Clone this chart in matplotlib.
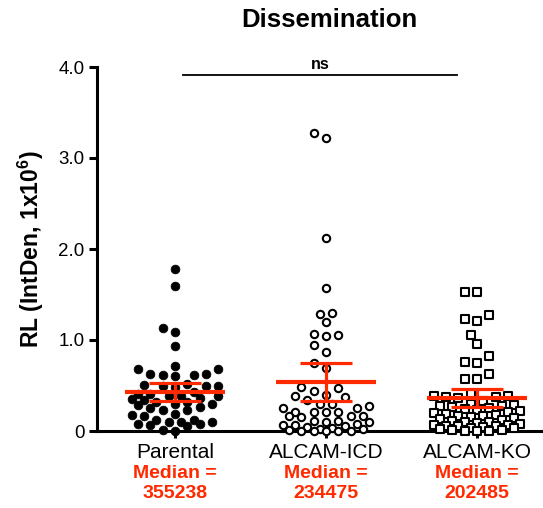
import numpy as np
import matplotlib
matplotlib.use("Agg")
import matplotlib.pyplot as plt
import matplotlib.transforms as mtransforms

plt.rcParams['font.family'] = ['Liberation Sans', 'DejaVu Sans']
plt.rcParams['mathtext.fontset'] = 'custom'
plt.rcParams['mathtext.rm'] = 'Liberation Sans'
plt.rcParams['mathtext.bf'] = 'Liberation Sans:bold'

# ---------------- data (units of 1e6) ----------------
categories = ["Parental", "ALCAM-ICD", "ALCAM-KO"]
medians = ["355238", "234475", "202485"]

parental = [1.78, 1.59, 1.13, 1.09, 0.93, 0.71, 0.68, 0.68, 0.63, 0.63, 0.61, 0.61,
            0.60, 0.52, 0.51, 0.49, 0.49, 0.49, 0.48, 0.43, 0.41, 0.41, 0.38, 0.38,
            0.38, 0.36, 0.35, 0.34, 0.32, 0.32, 0.30, 0.30, 0.29, 0.26, 0.25, 0.23,
            0.23, 0.19, 0.18, 0.16, 0.12, 0.12, 0.10, 0.10, 0.10, 0.08, 0.08, 0.07,
            0.05, 0.01, 0.00]

alcam_icd = [3.27, 3.22, 2.12, 1.57, 1.30, 1.29, 1.20, 1.07, 1.05, 1.04, 0.95, 0.87,
             0.75, 0.69, 0.48, 0.47, 0.44, 0.40, 0.38, 0.37, 0.34, 0.30, 0.30, 0.28,
             0.25, 0.25, 0.21, 0.21, 0.21, 0.21, 0.17, 0.17, 0.16, 0.15, 0.11, 0.11,
             0.10, 0.10, 0.08, 0.07, 0.07, 0.05, 0.04, 0.03, 0.02, 0.02, 0.01, 0.00,
             0.00, 0.00, 0.00, 0.00]

alcam_ko = [1.53, 1.53, 1.28, 1.23, 1.21, 1.06, 0.96, 0.82, 0.76, 0.75, 0.63, 0.57,
            0.57, 0.41, 0.39, 0.38, 0.37, 0.37, 0.36, 0.33, 0.30, 0.29, 0.28, 0.27,
            0.26, 0.25, 0.24, 0.23, 0.22, 0.21, 0.20, 0.19, 0.18, 0.17, 0.16, 0.15,
            0.14, 0.13, 0.12, 0.11, 0.10, 0.10, 0.09, 0.08, 0.07, 0.07, 0.06, 0.05,
            0.05, 0.04, 0.03, 0.03, 0.02, 0.01, 0.01, 0.00, 0.00, 0.00]

means = [0.43, 0.54, 0.36]
sems = [0.10, 0.205, 0.10]

yticks = [0, 1, 2, 3, 4]
ytick_labels = ["0", "1.0", "2.0", "3.0", "4.0"]

# ---------------- figure ----------------
W, H = 543, 508
fig = plt.figure(figsize=(W / 100, H / 100), dpi=100)
ax_left, ax_bottom, ax_right, ax_top = 97, 431, 543, 67
ax = fig.add_axes([ax_left / W, 1 - ax_bottom / H, (ax_right - ax_left) / W,
                   (ax_bottom - ax_top) / H])
xlim = (-0.517, 2.437)
ylim = (0, 4.0)
ax.set_xlim(*xlim)
ax.set_ylim(*ylim)

px_per_x = (ax_right - ax_left) / (xlim[1] - xlim[0])
px_per_y = (ax_bottom - ax_top) / (ylim[1] - ylim[0])


def swarm(vals, step=6.2, dmin=9.6, kmax=7):
    vals = np.asarray(vals, float)
    order = np.argsort(vals, kind="stable")
    offs = np.zeros(len(vals))
    placed = []
    cands = [0]
    for k in range(1, kmax + 1):
        cands += [-k, k]
    for i in order:
        y = vals[i] * px_per_y
        best_x, best_d = None, -1.0
        for k in cands:
            x = k * step
            if placed:
                arr = np.array(placed)
                d = np.sqrt(((arr[:, 0] - x) ** 2 + (arr[:, 1] - y) ** 2).min())
            else:
                d = np.inf
            if d >= dmin:
                best_x = x
                break
            if d > best_d + 0.5:
                best_d, best_x = d, x
        placed.append((best_x, y))
        offs[i] = best_x / px_per_x
    return offs


red = "#ff2a00"
groups = [parental, alcam_icd, alcam_ko]
styles = [dict(marker="o", s=40, facecolors="black", edgecolors="black", linewidths=0.5),
          dict(marker="o", s=28, facecolors="white", edgecolors="black", linewidths=1.5),
          dict(marker="s", s=30, facecolors="white", edgecolors="black", linewidths=1.5)]

for i, (vals, st) in enumerate(zip(groups, styles)):
    offs = swarm(vals)
    ax.scatter(i + offs, vals, zorder=3, clip_on=False, **st)
    half_mean = 50 / px_per_x
    half_cap = 26 / px_per_x
    ax.plot([i - half_mean, i + half_mean], [means[i], means[i]], color=red,
            lw=3.0, zorder=4, solid_capstyle="butt")
    ax.plot([i, i], [means[i] - sems[i], means[i] + sems[i]], color=red,
            lw=2.3, zorder=4, solid_capstyle="butt")
    for sgn in (-1, 1):
        yv = means[i] + sgn * sems[i]
        ax.plot([i - half_cap, i + half_cap], [yv, yv], color=red, lw=2.3,
                zorder=4, solid_capstyle="butt")

# spines / ticks
for s in ("top", "right"):
    ax.spines[s].set_visible(False)
ax.spines["left"].set_linewidth(2.2)
ax.spines["bottom"].set_linewidth(2.2)
ax.set_yticks(yticks)
ax.set_yticklabels(ytick_labels)
ax.set_xticks(range(len(categories)))
ax.set_xticklabels(categories)
ax.tick_params(axis="y", length=6, width=2.2, labelsize=13.5, pad=3)
ax.tick_params(axis="x", length=5, width=2.2, labelsize=15, pad=4)

ax.set_ylabel(r"RL (IntDen, 1x10$^{\mathbf{6}}$)", fontsize=16.5, fontweight="bold",
              labelpad=9)
fig.text(329 / W, 1 - 20 / H, "Dissemination", ha="center", va="center",
         fontsize=18.5, fontweight="bold")

# significance bar
ax.plot([0.05, 1.87], [3.91, 3.91], color="black", lw=1.3, clip_on=False)
ax.text(0.96, 3.975, "ns", ha="center", va="baseline", fontsize=11.5, fontweight="bold")

# median annotations
trans = mtransforms.blended_transform_factory(ax.transData, fig.transFigure)
for i, m in enumerate(medians):
    ax.text(i, 1 - 473 / H, "Median =", transform=trans, ha="center", va="center",
            color=red, fontsize=14, fontweight="bold")
    ax.text(i, 1 - 494 / H, m, transform=trans, ha="center", va="center",
            color=red, fontsize=14, fontweight="bold")

fig.savefig("out.png", dpi=100)
